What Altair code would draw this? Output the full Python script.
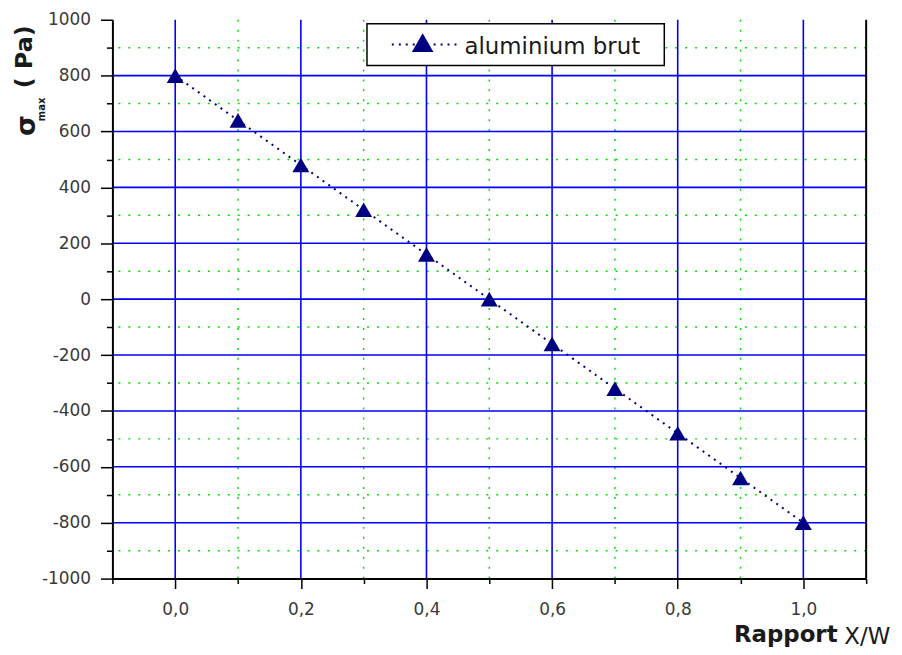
import altair as alt
import pandas as pd

# ---- data ----
ratio = [0.0, 0.1, 0.2, 0.3, 0.4, 0.5, 0.6, 0.7, 0.8, 0.9, 1.0]
stress = [800, 640, 480, 320, 160, 0, -160, -320, -480, -640, -800]
series_name = ["aluminium brut"]

x_domain = [-0.1, 1.1]
y_domain = [-1000, 1000]
x_ticks = [-0.1, 0.0, 0.1, 0.2, 0.3, 0.4, 0.5, 0.6, 0.7, 0.8, 0.9, 1.0, 1.1]
y_ticks = [-1000, -900, -800, -700, -600, -500, -400, -300, -200, -100, 0,
           100, 200, 300, 400, 500, 600, 700, 800, 900, 1000]
x_major = [0.0, 0.2, 0.4, 0.6, 0.8, 1.0]
x_minor = [0.1, 0.3, 0.5, 0.7, 0.9]
y_major = [-800, -600, -400, -200, 0, 200, 400, 600, 800]
y_minor = [-900, -700, -500, -300, -100, 100, 300, 500, 700, 900]
x_title = ["Rapport", "X/W"]
y_title = ["σ", "max", "( Pa)"]

W, H = 758, 562
NAVY = "#000080"
FONT = "DejaVu Sans"

xs = alt.Scale(domain=x_domain, nice=False, zero=False)
ys = alt.Scale(domain=y_domain, nice=False, zero=False)

df = pd.DataFrame({"ratio": ratio, "stress": stress})

x_axis = alt.Axis(
    values=x_ticks, grid=False, title=None, zindex=1,
    domainColor="black", domainWidth=2, tickColor="black", tickWidth=1.5,
    tickSize={"condition": {"test": "abs(round(datum.value*10)) % 2 == 0", "value": 10}, "value": 5},
    labelExpr="abs(round(datum.value*10)) % 2 == 0 ? replace(format(datum.value, '.1f'), '.', ',') : ''",
    labelFont=FONT, labelFontSize=17, labelColor="#3a3a3a", labelPadding=13,
)
y_axis = alt.Axis(
    values=y_ticks, grid=False, title=None, zindex=1,
    domainColor="black", domainWidth=2, tickColor="black", tickWidth=1.5,
    tickSize={"condition": {"test": "datum.value % 200 == 0", "value": 12}, "value": 6},
    labelExpr="datum.value % 200 == 0 ? '' + datum.value : ''",
    labelFont=FONT, labelFontSize=17, labelColor="#3a3a3a", labelPadding=10,
)

minor_v = alt.Chart(pd.DataFrame({"x": x_minor})).mark_rule(
    color="#00e000", strokeWidth=1.5, strokeDash=[2, 8]
).encode(x=alt.X("x:Q", scale=xs, axis=x_axis))
minor_h = alt.Chart(pd.DataFrame({"y": y_minor})).mark_rule(
    color="#00e000", strokeWidth=1.5, strokeDash=[2, 8]
).encode(y=alt.Y("y:Q", scale=ys, axis=y_axis))
major_v = alt.Chart(pd.DataFrame({"x": x_major})).mark_rule(
    color="#0000ff", strokeWidth=1.6
).encode(x=alt.X("x:Q", scale=xs, axis=x_axis))
major_h = alt.Chart(pd.DataFrame({"y": y_major})).mark_rule(
    color="#0000ff", strokeWidth=1.6
).encode(y=alt.Y("y:Q", scale=ys, axis=y_axis))
right_border = alt.Chart(pd.DataFrame({"x": [x_domain[1]]})).mark_rule(
    color="black", strokeWidth=2
).encode(x=alt.X("x:Q", scale=xs, axis=x_axis))

line = alt.Chart(df).mark_line(
    color=NAVY, strokeWidth=2, strokeDash=[2, 5]
).encode(
    x=alt.X("ratio:Q", scale=xs, axis=x_axis),
    y=alt.Y("stress:Q", scale=ys, axis=y_axis),
)
points = alt.Chart(df).mark_point(
    shape="triangle-up", filled=True, size=290, color=NAVY, opacity=1
).encode(
    x=alt.X("ratio:Q", scale=xs, axis=x_axis),
    y=alt.Y("stress:Q", scale=ys, axis=y_axis),
)

# ---- legend box ----
leg_df = pd.DataFrame({"label": series_name})
leg_box = alt.Chart(leg_df).mark_rect(
    fill="white", stroke="black", strokeWidth=1.5
).encode(x=alt.value(256), x2=alt.value(555), y=alt.value(4), y2=alt.value(46))
leg_line = alt.Chart(leg_df).mark_rule(
    color=NAVY, strokeWidth=2, strokeDash=[2, 5]
).encode(x=alt.value(281), x2=alt.value(347), y=alt.value(25))
leg_sym = alt.Chart(leg_df).mark_point(
    shape="triangle-up", filled=True, size=470, color=NAVY, opacity=1
).encode(x=alt.value(312), y=alt.value(23))
leg_text = alt.Chart(leg_df).mark_text(
    align="left", baseline="alphabetic", font=FONT, fontSize=23, color="#1a1a1a"
).encode(x=alt.value(354), y=alt.value(34), text="label:N")

# ---- axis titles ----
xt1 = alt.Chart(pd.DataFrame({"t": [x_title[0]]})).mark_text(
    align="left", baseline="alphabetic", font=FONT, fontSize=23, fontWeight="bold", color="#1a1a1a"
).encode(x=alt.value(625), y=alt.value(626), text="t:N")
xt2 = alt.Chart(pd.DataFrame({"t": [x_title[1]]})).mark_text(
    align="left", baseline="alphabetic", font=FONT, fontSize=23, color="#1a1a1a"
).encode(x=alt.value(736), y=alt.value(628), text="t:N")
yt1 = alt.Chart(pd.DataFrame({"t": [y_title[0]]})).mark_text(
    align="left", baseline="alphabetic", angle=270, font=FONT, fontSize=27, fontWeight="bold", color="#1a1a1a"
).encode(x=alt.value(-78), y=alt.value(117), text="t:N")
yt2 = alt.Chart(pd.DataFrame({"t": [y_title[1]]})).mark_text(
    align="left", baseline="alphabetic", angle=270, font=FONT, fontSize=10, fontWeight="bold", color="#1a1a1a"
).encode(x=alt.value(-68), y=alt.value(102), text="t:N")
yt3 = alt.Chart(pd.DataFrame({"t": [y_title[2]]})).mark_text(
    align="left", baseline="alphabetic", angle=270, font=FONT, fontSize=24, fontWeight="bold", color="#1a1a1a"
).encode(x=alt.value(-81), y=alt.value(69), text="t:N")

chart = alt.layer(
    minor_v, minor_h, major_v, major_h, right_border, line, points,
    leg_box, leg_line, leg_sym, leg_text, xt1, xt2, yt1, yt2, yt3,
).properties(
    width=W, height=H,
    padding={"left": 105, "top": 10, "right": 28, "bottom": 68},
    autosize="none",
    background="white",
).configure_view(stroke=None)

chart.save("out.html", embed_options={"renderer": "svg", "actions": False})
